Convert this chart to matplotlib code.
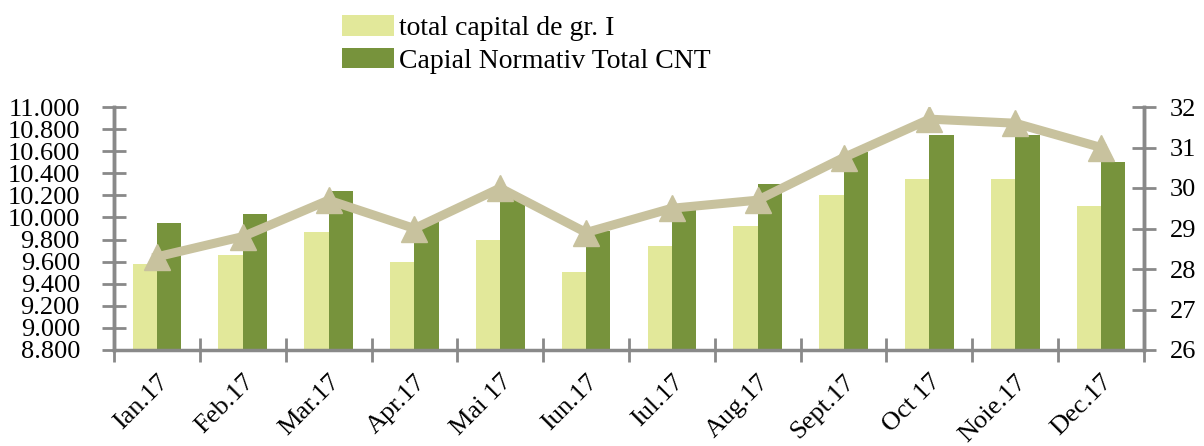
import matplotlib
matplotlib.use("Agg")
import matplotlib.pyplot as plt
from matplotlib.ticker import FuncFormatter, FixedLocator
import matplotlib.transforms as mtransforms
import numpy as np

months = ["Ian.17", "Feb.17", "Mar.17", "Apr.17", "Mai 17", "Iun.17",
          "Iul.17", "Aug.17", "Sept.17", "Oct 17", "Noie.17", "Dec.17"]
capital_gr1 = [9575, 9660, 9865, 9600, 9800, 9510, 9740, 9925, 10200, 10350, 10350, 10100]
cnt_total = [9950, 10030, 10235, 9960, 10190, 9875, 10070, 10300, 10595, 10745, 10745, 10500]
ratio = [28.3, 28.8, 29.7, 29.0, 30.0, 28.9, 29.5, 29.7, 30.75, 31.7, 31.6, 31.0]

left_ticks = [8800, 9000, 9200, 9400, 9600, 9800, 10000, 10200, 10400, 10600, 10800, 11000]
right_ticks = [26, 27, 28, 29, 30, 31, 32]

light = "#E2E89A"
dark = "#77933C"
linec = "#C8C29E"
axc = "#898989"
font = "Liberation Serif"
fs = 19

fig = plt.figure(figsize=(12.04, 4.46), dpi=100)
ax = fig.add_axes([114/1204, 1-350/446, (1144-114)/1204, (350-107)/446])
ax2 = ax.twinx()

x = np.arange(len(months))
w = 0.283
b1 = ax.bar(x - w/2, capital_gr1, w, color=light, label="total capital de gr. I", zorder=2)
b2 = ax.bar(x + w/2, cnt_total, w, color=dark, label="Capial Normativ Total CNT", zorder=2)
ax.set_ylim(8800, 11000)
ax.set_xlim(-0.5, len(months) - 0.5)

ax2.plot(x, ratio, color=linec, lw=6.5, marker="^", markersize=19, zorder=3)
ax2.set_ylim(26, 32)

fmt = FuncFormatter(lambda v, p: f"{int(round(v)):,}".replace(",", "."))
ax.yaxis.set_major_locator(FixedLocator(left_ticks))
ax.yaxis.set_major_formatter(fmt)
ax2.yaxis.set_major_locator(FixedLocator(right_ticks))

ax.set_xticks(x)
ax.set_xticklabels(months, rotation=45, ha="right", rotation_mode="anchor",
                   fontfamily=font, fontsize=fs)
offset = mtransforms.ScaledTranslation(-9/100, 0, fig.dpi_scale_trans)
for lab in ax.get_xticklabels():
    lab.set_transform(lab.get_transform() + offset)
ax.set_xticks(np.arange(-0.5, len(months), 1.0), minor=True)
ax.tick_params(axis="x", which="major", length=0, pad=15)
ax.tick_params(axis="x", which="minor", direction="inout", length=17, width=2, color=axc)

ax.tick_params(axis="y", direction="inout", length=17, width=2, color=axc, pad=16)
ax2.tick_params(axis="y", direction="inout", length=17, width=2, color=axc, pad=10)
for lab in ax.get_yticklabels() + ax2.get_yticklabels():
    lab.set_fontfamily(font)
    lab.set_fontsize(fs)

for a in (ax, ax2):
    a.spines["top"].set_visible(False)
    for s in ("left", "right", "bottom"):
        a.spines[s].set_color(axc)
        a.spines[s].set_linewidth(2.5)
ax2.spines["bottom"].set_visible(False)

leg = fig.legend(handles=[b1, b2], loc="upper left", bbox_to_anchor=(327/1204, 1.0),
                 frameon=False, prop={"family": font, "size": 20},
                 handlelength=1.85, handleheight=0.75, handletextpad=0.2, labelspacing=0.25,
                 borderaxespad=0.15)

fig.savefig("out.png", dpi=100)
